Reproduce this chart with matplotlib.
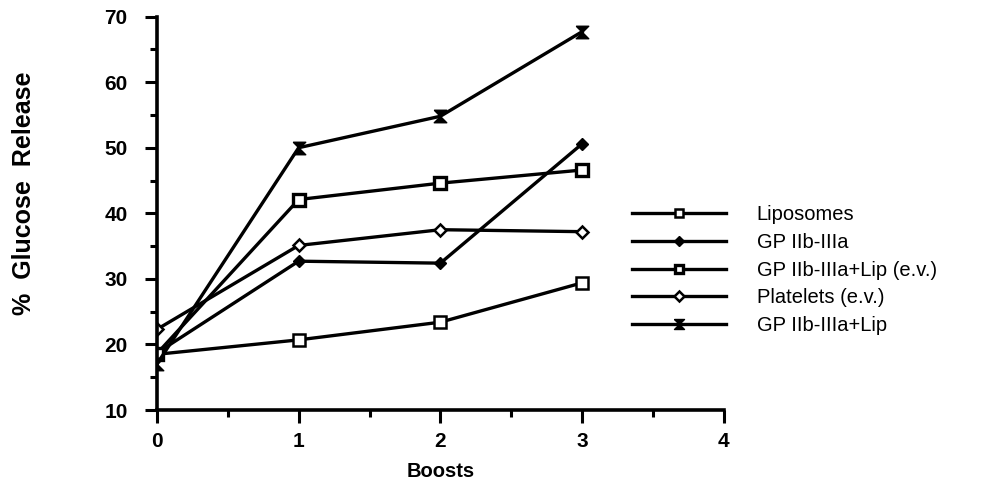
import numpy as np
import matplotlib
matplotlib.use("Agg")
import matplotlib.pyplot as plt
from matplotlib.ticker import MultipleLocator

plt.rcParams['font.family'] = ['Liberation Sans', 'DejaVu Sans']

# data
boosts = [0, 1, 2, 3]
liposomes = [18.5, 20.7, 23.4, 29.4]
gp = [18.7, 32.7, 32.4, 50.6]
gp_lip_ev = [18.6, 42.1, 44.6, 46.6]
platelets_ev = [22.3, 35.1, 37.5, 37.2]
gp_lip = [17.0, 50.0, 54.8, 67.7]

labels = ['Liposomes', 'GP IIb-IIIa', 'GP IIb-IIIa+Lip (e.v.)',
          'Platelets (e.v.)', 'GP IIb-IIIa+Lip']

# hourglass marker for the last series
bowtie = [(-1, 1), (1, 1), (-1, -1), (1, -1), (-1, 1)]

fig = plt.figure(figsize=(9.93, 4.87), dpi=100)
ax = fig.add_axes([0.158, 0.158, 0.571, 0.808])

lw = 2.4
ax.plot(boosts, liposomes, color='k', lw=lw, marker='s', ms=8,
        mfc='white', mec='k', mew=1.8, label=labels[0])
ax.plot(boosts, gp, color='k', lw=lw, marker='D', ms=6,
        mfc='k', mec='k', label=labels[1])
ax.plot(boosts, gp_lip_ev, color='k', lw=lw, marker='s', ms=8,
        mfc='white', mec='k', mew=2.4, label=labels[2])
ax.plot(boosts, platelets_ev, color='k', lw=lw, marker='D', ms=6.5,
        mfc='white', mec='k', mew=1.8, label=labels[3])
ax.plot(boosts, gp_lip, color='k', lw=lw, marker=bowtie, ms=9,
        mfc='k', mec='k', label=labels[4])

ax.set_xlim(0, 4)
ax.set_ylim(10, 70)
ax.xaxis.set_major_locator(MultipleLocator(1))
ax.xaxis.set_minor_locator(MultipleLocator(0.5))
ax.yaxis.set_major_locator(MultipleLocator(10))
ax.yaxis.set_minor_locator(MultipleLocator(5))

for s in ['top', 'right']:
    ax.spines[s].set_visible(False)
for s in ['left', 'bottom']:
    ax.spines[s].set_linewidth(2.6)

ax.tick_params(which='major', direction='out', length=9, width=2.2, labelsize=15)
ax.tick_params(which='minor', direction='out', length=5, width=2.2)
ax.tick_params(axis='x', which='major', pad=7)
ax.tick_params(axis='y', which='major', pad=12)
for t in ax.get_xticklabels() + ax.get_yticklabels():
    t.set_fontweight('bold')

ax.set_xlabel('Boosts', fontsize=14.5, fontweight='bold', labelpad=8)
fig.text(0.024, 0.604, '%  Glucose  Release', rotation=90,
         ha='center', va='center', fontsize=18, fontweight='bold')

leg = fig.legend(loc='upper left', bbox_to_anchor=(0.628, 0.595),
                 frameon=False, fontsize=14.5, handlelength=4.7,
                 handletextpad=1.5, labelspacing=0.43, borderaxespad=0,
                 markerscale=0.8)

fig.savefig('out.png', dpi=100)
